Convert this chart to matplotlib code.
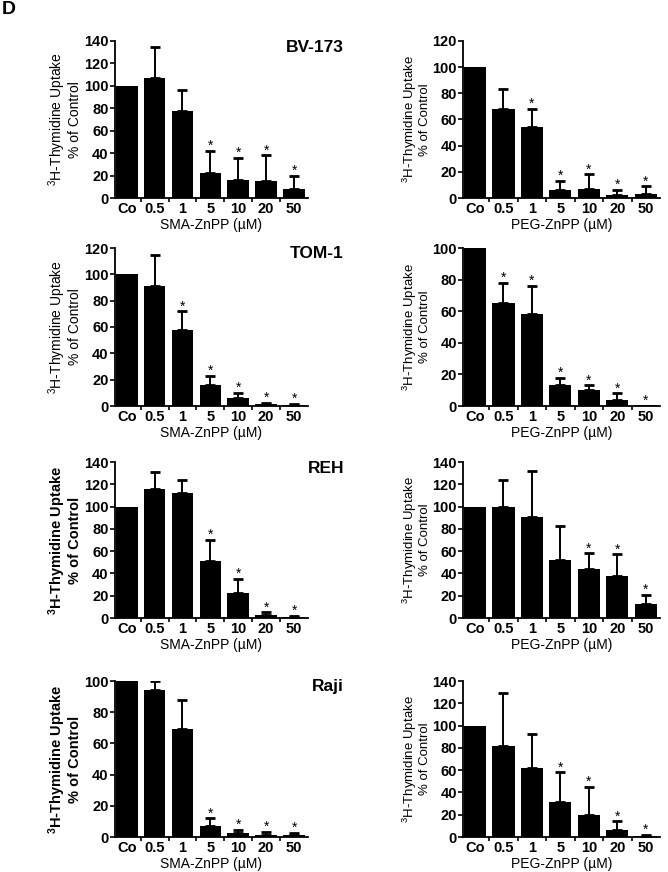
import numpy as np
import matplotlib
matplotlib.use("Agg")
import matplotlib.pyplot as plt
from matplotlib.ticker import FixedLocator

plt.rcParams['font.family'] = ['Liberation Sans', 'DejaVu Sans']
plt.rcParams['mathtext.fontset'] = 'custom'
plt.rcParams['mathtext.rm'] = 'Liberation Sans'
plt.rcParams['mathtext.bf'] = 'Liberation Sans:bold'

doses = ['Co', '0.5', '1', '5', '10', '20', '50']

# mean values (% of control)
bv_sma = [100, 107, 78, 22, 16, 15, 8]
bv_sma_err = [0, 28, 18, 20, 20, 23, 12]
bv_peg = [100, 68, 54, 6, 7, 2, 3]
bv_peg_err = [0, 15, 14, 7, 11, 4, 6]

tom_sma = [100, 91, 58, 16, 6, 1.5, 0.8]
tom_sma_err = [0, 24, 14, 7, 4, 1, 0.7]
tom_peg = [100, 65, 58, 13, 10, 4, 0.5]
tom_peg_err = [0, 13, 18, 5, 3, 4, 0]

reh_sma = [100, 116, 112, 51, 22, 3, 1]
reh_sma_err = [0, 15, 12, 19, 13, 2, 1]
reh_peg = [100, 100, 91, 52, 44, 38, 13]
reh_peg_err = [0, 24, 41, 31, 14, 19, 8]

raji_sma = [100, 94, 69, 7, 2.5, 1.5, 1]
raji_sma_err = [0, 6, 19, 5, 2, 2, 1.5]
raji_peg = [100, 82, 62, 31, 20, 6, 1]
raji_peg_err = [0, 47, 30, 27, 25, 8, 1]

# stars mark significant doses (indices)
bv_sma_sig = [3, 4, 5, 6]
bv_peg_sig = [2, 3, 4, 5, 6]
tom_sma_sig = [2, 3, 4, 5, 6]
tom_peg_sig = [1, 2, 3, 4, 5, 6]
reh_sma_sig = [3, 4, 5, 6]
reh_peg_sig = [4, 5, 6]
raji_sma_sig = [3, 4, 5, 6]
raji_peg_sig = [3, 4, 5, 6]

cell_lines = ['BV-173', 'TOM-1', 'REH', 'Raji']
ymax_sma = [140, 120, 140, 100]
ymax_peg = [120, 100, 140, 140]

rows = [
    (bv_sma, bv_sma_err, bv_sma_sig, bv_peg, bv_peg_err, bv_peg_sig),
    (tom_sma, tom_sma_err, tom_sma_sig, tom_peg, tom_peg_err, tom_peg_sig),
    (reh_sma, reh_sma_err, reh_sma_sig, reh_peg, reh_peg_err, reh_peg_sig),
    (raji_sma, raji_sma_err, raji_sma_sig, raji_peg, raji_peg_err, raji_peg_sig),
]

W, H = 668, 872
fig = plt.figure(figsize=(W / 100, H / 100), dpi=100)

row_px = [(41, 198), (248, 406), (462, 618), (681, 837)]
col_px = [(115, 308), (463, 660)]
ylabel_bold = [False, False, True, True]


def draw_panel(ax, vals, errs, sig, ymax, xlabel, lab_x, lab_size, lab_bold):
    x = np.arange(len(doses))
    vals = np.array(vals, dtype=float)
    errs = np.array(errs, dtype=float)
    ax.bar(x, vals, width=0.78, color='black', edgecolor='none', zorder=2)
    has_err = errs > 0
    ax.errorbar(x[has_err], vals[has_err],
                yerr=[np.zeros(has_err.sum()), errs[has_err]],
                fmt='none', ecolor='black', elinewidth=1.4, capsize=3.5,
                capthick=2.0, zorder=3)
    for i in sig:
        ax.annotate('*', (x[i], vals[i] + errs[i]), xytext=(0, -1.5),
                    textcoords='offset points', ha='center', va='bottom',
                    fontsize=10)
    ax.set_xlim(-0.42, 6.5)
    ax.set_ylim(0, ymax)
    ax.set_yticks(np.arange(0, ymax + 1, 20))
    ax.set_xticks(x)
    ax.set_xticklabels(doses)
    ax.xaxis.set_minor_locator(FixedLocator(x[:-1] + 0.5))
    ax.tick_params(axis='x', which='major', length=0, pad=3)
    ax.tick_params(axis='x', which='minor', length=3, width=1.2)
    ax.tick_params(axis='y', length=3.5, width=1.2, pad=1)
    for lbl in ax.get_xticklabels() + ax.get_yticklabels():
        lbl.set_fontweight('bold')
        lbl.set_fontsize(10.5)
    for side in ['top', 'right']:
        ax.spines[side].set_visible(False)
    for side in ['left', 'bottom']:
        ax.spines[side].set_linewidth(1.3)
    ax.set_xlabel(xlabel, fontsize=10, labelpad=1)
    sup = r'$\mathbf{^{3}}$' if lab_bold else r'$^{3}$'
    ax.set_ylabel(sup + 'H-Thymidine Uptake\n% of Control', fontsize=lab_size,
                  fontweight='bold' if lab_bold else 'normal',
                  linespacing=1.05)
    ax.yaxis.set_label_coords(lab_x, 0.5)


for r, (sma, sma_e, sma_s, peg, peg_e, peg_s) in enumerate(rows):
    top, bot = row_px[r]
    for c in range(2):
        x0, x1 = col_px[c]
        ax = fig.add_axes([x0 / W, 1 - bot / H, (x1 - x0) / W, (bot - top) / H])
        if c == 0:
            draw_panel(ax, sma, sma_e, sma_s, ymax_sma[r], 'SMA-ZnPP (µM)',
                       -0.17, 10.5 if ylabel_bold[r] else 10, ylabel_bold[r])
        else:
            draw_panel(ax, peg, peg_e, peg_s, ymax_peg[r], 'PEG-ZnPP (µM)',
                       -0.16, 9.5, False)
    fig.text(344 / W, 1 - (top + 6) / H, cell_lines[r], ha='right', va='center',
             fontsize=12.5, fontweight='bold')

fig.text(2 / W, 1 - 1 / H, 'D', ha='left', va='top', fontsize=14,
         fontweight='bold')

fig.savefig('out.png', dpi=100)
